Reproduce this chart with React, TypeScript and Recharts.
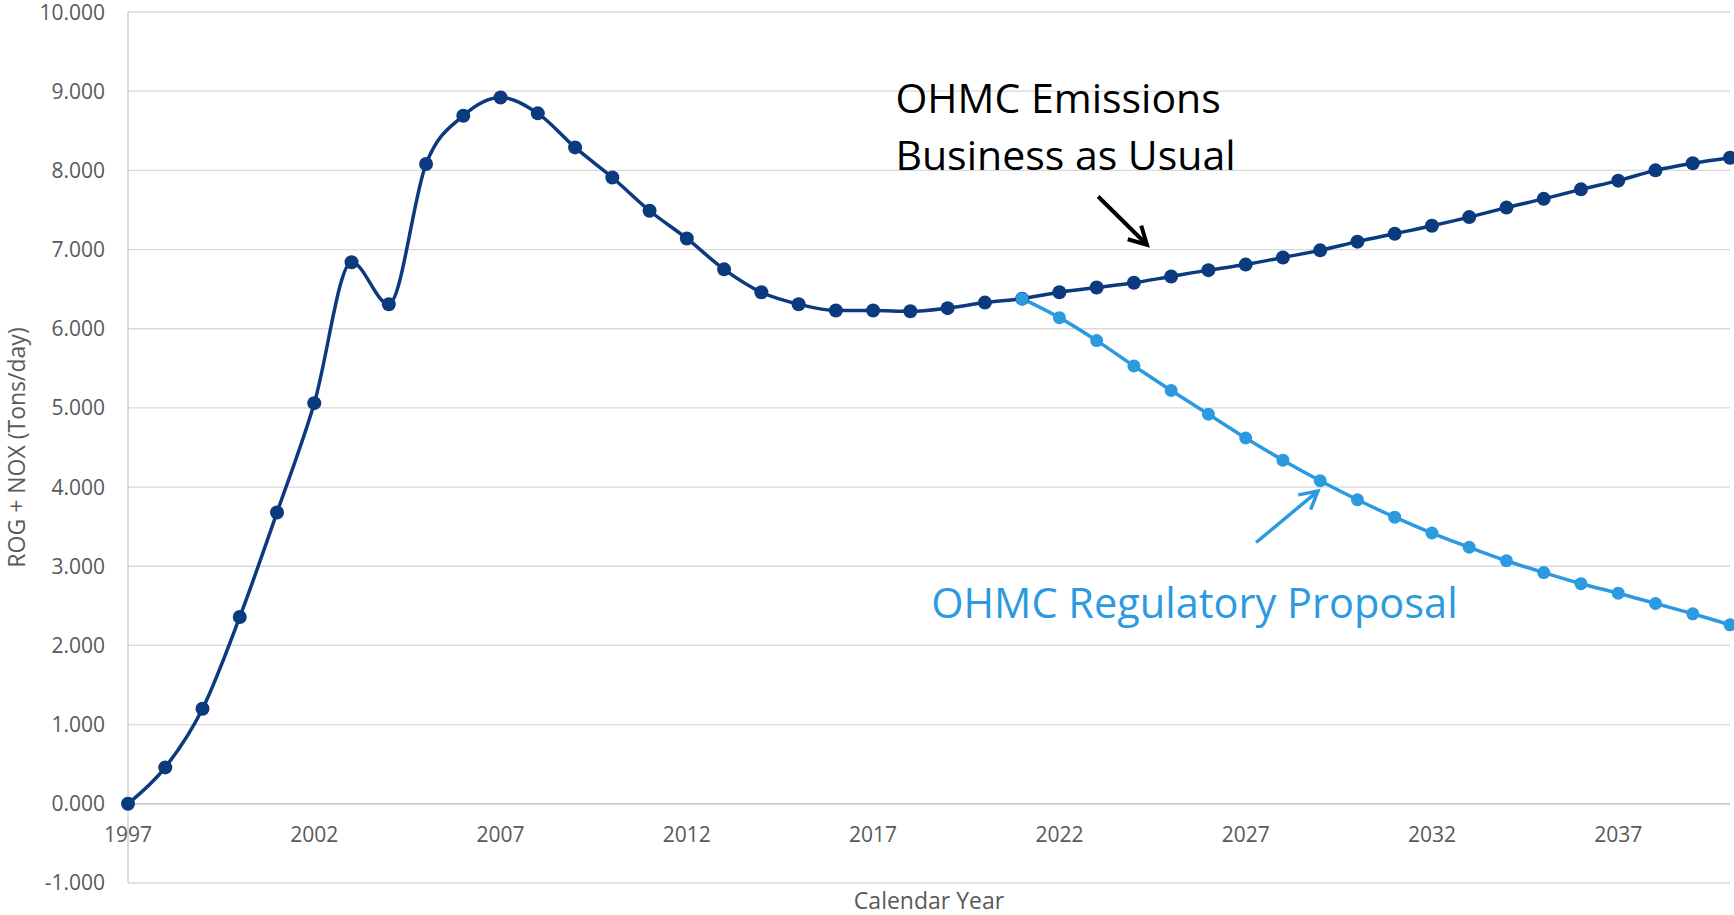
import {
  LineChart,
  Line,
  XAxis,
  YAxis,
  CartesianGrid,
  ReferenceLine,
  ReferenceDot,
} from "recharts";

const YEARS = [
  1997, 1998, 1999, 2000, 2001, 2002, 2003, 2004, 2005, 2006, 2007, 2008,
  2009, 2010, 2011, 2012, 2013, 2014, 2015, 2016, 2017, 2018, 2019, 2020,
  2021, 2022, 2023, 2024, 2025, 2026, 2027, 2028, 2029, 2030, 2031, 2032,
  2033, 2034, 2035, 2036, 2037, 2038, 2039, 2040,
];

// business as usual, tons/day
const BAU = [
  0.0, 0.46, 1.2, 2.36, 3.68, 5.06, 6.84, 6.31, 8.08, 8.69, 8.92, 8.72,
  8.29, 7.91, 7.49, 7.14, 6.75, 6.46, 6.31, 6.23, 6.23, 6.22, 6.26, 6.33,
  6.38, 6.46, 6.52, 6.58, 6.66, 6.74, 6.81, 6.9, 6.99, 7.1, 7.2, 7.3,
  7.41, 7.53, 7.64, 7.76, 7.87, 8.0, 8.09, 8.16,
];

// regulatory proposal, from 2021 on
const PROPOSAL_START = 2021;
const PROPOSAL = [
  6.38, 6.14, 5.85, 5.53, 5.22, 4.92, 4.62, 4.34, 4.08, 3.84, 3.62, 3.42,
  3.24, 3.07, 2.92, 2.78, 2.66, 2.53, 2.4, 2.26,
];

const YEAR_TICKS = [1997, 2002, 2007, 2012, 2017, 2022, 2027, 2032, 2037];
const VALUE_TICKS = [-1, 0, 1, 2, 3, 4, 5, 6, 7, 8, 9, 10];

// annotation anchors in data units (year, value)
const BAU_NOTE = ["OHMC Emissions", "Business as Usual"];
const BAU_NOTE_POS = [
  { x: 2017.6, y: 8.72 },
  { x: 2017.6, y: 8.01 },
];
const PROPOSAL_NOTE = "OHMC Regulatory Proposal";
const PROPOSAL_NOTE_POS = { x: 2018.56, y: 2.35 };
const BAU_ARROW = [
  { x: 2023.04, y: 7.67 },
  { x: 2024.35, y: 7.06 },
];
const PROPOSAL_ARROW = [
  { x: 2027.28, y: 3.3 },
  { x: 2028.94, y: 3.95 },
];

const DARK = "#0b3a7e";
const LIGHT = "#2c9ae0";
const FONT = '"Open Sans", sans-serif';
const AXIS_TEXT = "#595959";

const data = YEARS.map((year, i) => ({
  year,
  bau: BAU[i],
  proposal: year >= PROPOSAL_START ? PROPOSAL[year - PROPOSAL_START] : null,
}));

function arrow(color: string, width: number) {
  return (p: any) => {
    const { x1, y1, x2, y2 } = p;
    const a = Math.atan2(y2 - y1, x2 - x1);
    const h = 20;
    const s = 0.5;
    const lx = x2 - h * Math.cos(a - s);
    const ly = y2 - h * Math.sin(a - s);
    const rx = x2 - h * Math.cos(a + s);
    const ry = y2 - h * Math.sin(a + s);
    return (
      <g>
        <line x1={x1} y1={y1} x2={x2} y2={y2} stroke={color} strokeWidth={width} />
        <polyline
          points={`${lx},${ly} ${x2},${y2} ${rx},${ry}`}
          fill="none"
          stroke={color}
          strokeWidth={width}
          strokeLinejoin="miter"
        />
      </g>
    );
  };
}

function note(text: string, color: string, size: number) {
  return (p: any) => (
    <text x={p.cx} y={p.cy} fill={color} fontSize={size} fontFamily={FONT}>
      {text}
    </text>
  );
}

export default function App() {
  return (
    <div
      style={{
        position: "absolute",
        left: 0,
        top: 0,
        width: 1734,
        height: 915,
        background: "#fff",
        fontFamily: FONT,
      }}
    >
      <LineChart
        width={1734}
        height={915}
        data={data}
        margin={{ top: 12, right: 4, bottom: 0, left: 0 }}
      >
        <CartesianGrid vertical={false} stroke="#d9d9d9" strokeWidth={1.3} />
        <XAxis
          dataKey="year"
          type="number"
          domain={[1997, 2040]}
          ticks={YEAR_TICKS}
          height={32}
          axisLine={false}
          tickLine={false}
          tickSize={0}
          tickMargin={0}
          tick={{ fill: AXIS_TEXT, fontSize: 21, fontFamily: FONT, dy: -56 }}
          label={{
            value: "Calendar Year",
            position: "insideBottom",
            offset: 6,
            fill: AXIS_TEXT,
            fontSize: 23,
            fontFamily: FONT,
          }}
        />
        <YAxis
          type="number"
          domain={[-1, 10]}
          ticks={VALUE_TICKS}
          width={128}
          axisLine={{ stroke: "#c8c8c8", strokeWidth: 1.3 }}
          tickLine={false}
          tickSize={0}
          tickMargin={23}
          tickFormatter={(v: number) => v.toFixed(3)}
          tick={{ fill: AXIS_TEXT, fontSize: 21, fontFamily: FONT }}
          label={{
            value: "ROG + NOX (Tons/day)",
            angle: -90,
            position: "insideLeft",
            offset: 17,
            fill: AXIS_TEXT,
            fontSize: 23,
            fontFamily: FONT,
            style: { textAnchor: "middle" },
          }}
        />
        <ReferenceLine y={0} stroke="#bfbfbf" strokeWidth={1.3} />
        <ReferenceLine segment={BAU_ARROW} shape={arrow("#000", 4)} />
        <ReferenceLine segment={PROPOSAL_ARROW} shape={arrow(LIGHT, 3.5)} />
        {BAU_NOTE.map((t, i) => (
          <ReferenceDot
            key={t}
            x={BAU_NOTE_POS[i].x}
            y={BAU_NOTE_POS[i].y}
            r={0}
            shape={note(t, "#000", 41)}
          />
        ))}
        <ReferenceDot
          x={PROPOSAL_NOTE_POS.x}
          y={PROPOSAL_NOTE_POS.y}
          r={0}
          shape={note(PROPOSAL_NOTE, LIGHT, 41.5)}
        />
        <Line
          dataKey="bau"
          type="monotone"
          stroke={DARK}
          strokeWidth={3.5}
          dot={{ r: 7, fill: DARK, stroke: DARK, strokeWidth: 0 }}
          activeDot={false}
          isAnimationActive={false}
        />
        <Line
          dataKey="proposal"
          type="monotone"
          stroke={LIGHT}
          strokeWidth={3.5}
          dot={{ r: 6.5, fill: LIGHT, stroke: LIGHT, strokeWidth: 0 }}
          activeDot={false}
          isAnimationActive={false}
        />
      </LineChart>
    </div>
  );
}
